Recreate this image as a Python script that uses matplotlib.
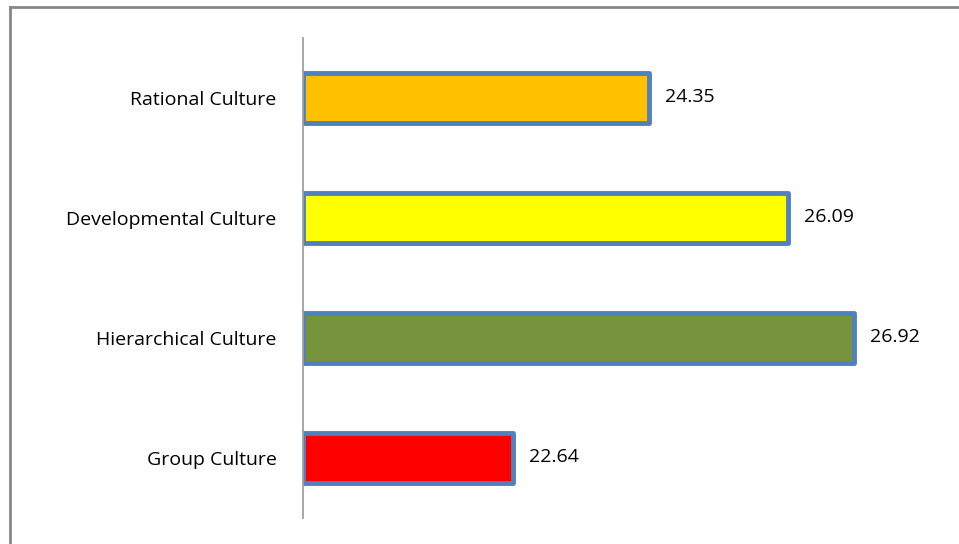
import matplotlib
matplotlib.use("Agg")
import matplotlib.pyplot as plt
from matplotlib.lines import Line2D

categories = ["Group Culture", "Hierarchical Culture", "Developmental Culture", "Rational Culture"]
values = [22.64, 26.92, 26.09, 24.35]
bar_colors = ["#ff0000", "#77933c", "#ffff00", "#ffc000"]

plt.rcParams["font.family"] = ["Open Sans", "DejaVu Sans"]

fig = plt.figure(figsize=(9.59, 5.44), dpi=100)
W, H = 959, 544
ax = fig.add_axes([303 / W, (544 - 518) / H, (940 - 303) / W, 480 / H])

ypos = range(len(categories))
ax.barh(ypos, [v - 20 for v in values], left=20, height=0.41, color=bar_colors,
        edgecolor="#4f81bd", linewidth=3.5, capstyle="round", joinstyle="round")

for y, v in zip(ypos, values):
    ax.text(v + 0.2, y + 0.01, f"{v:.2f}", va="center", ha="left", fontsize=14, color="black")

ax.set_xlim(20, 28)
ax.set_ylim(-0.5, 3.5)
ax.set_yticks(list(ypos))
ax.set_yticklabels(categories, fontsize=14)
ax.tick_params(axis="y", length=0, pad=19)
ax.set_xticks([])
for s in ["top", "right", "bottom"]:
    ax.spines[s].set_visible(False)
ax.spines["left"].set_color("#a0a0a0")
ax.spines["left"].set_linewidth(1.3)

# chart area border (top and left visible)
fig.add_artist(Line2D([9.5 / W, 9.5 / W], [0, 1 - 6.5 / H], transform=fig.transFigure,
                      color="#868686", linewidth=2))
fig.add_artist(Line2D([9.5 / W, 1], [1 - 6.5 / H, 1 - 6.5 / H], transform=fig.transFigure,
                      color="#868686", linewidth=2))

fig.savefig("out.png", dpi=100)
